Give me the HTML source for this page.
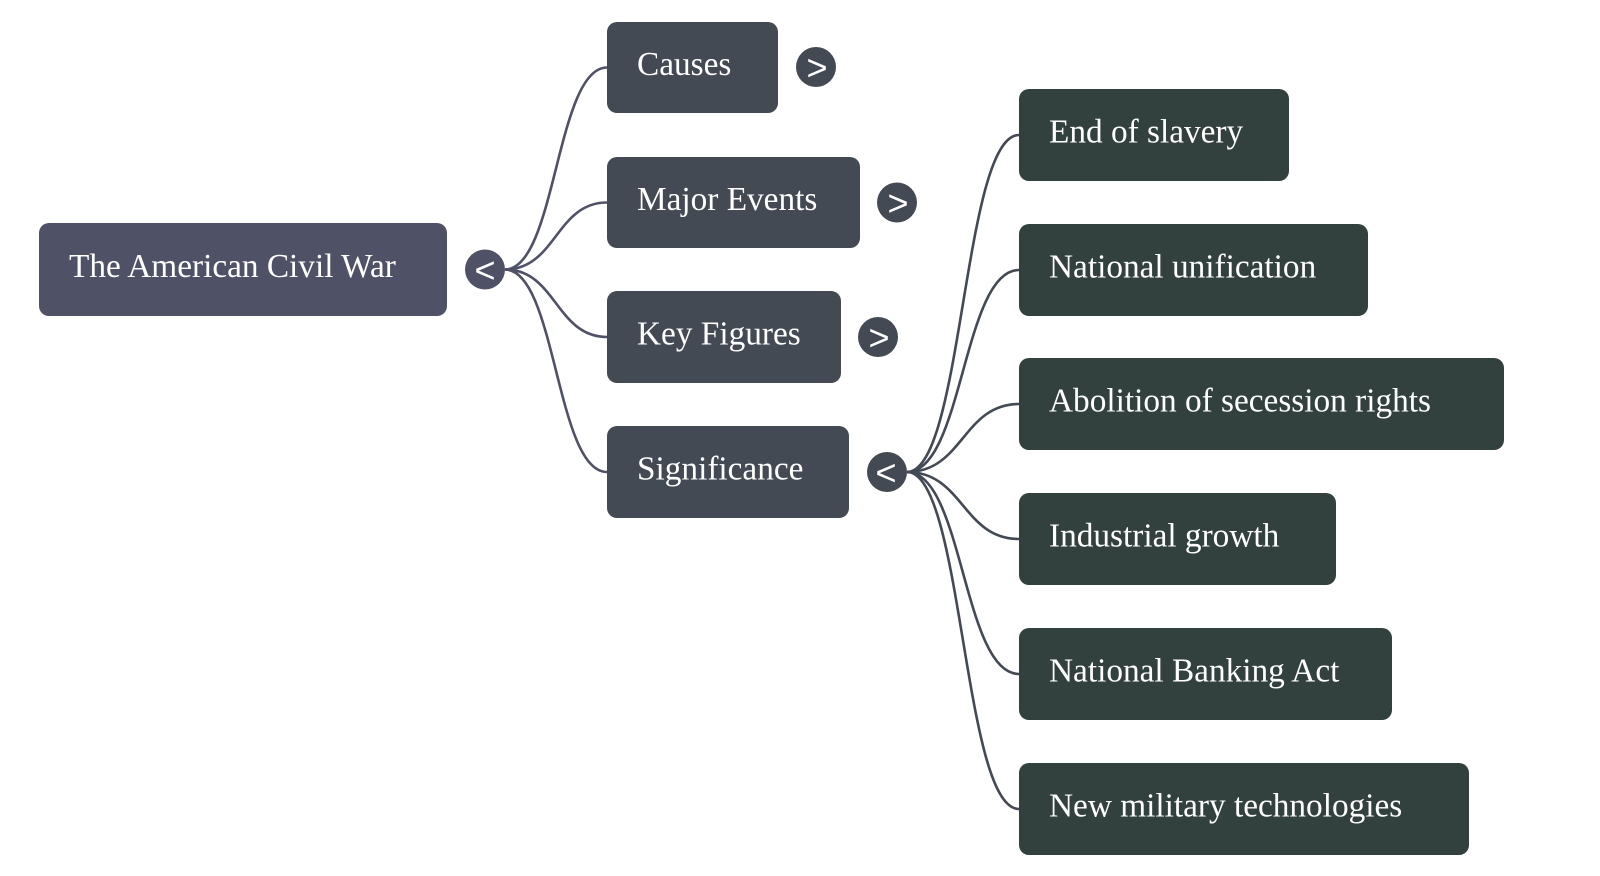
<!DOCTYPE html>
<html>
<head>
<meta charset="utf-8">
<style>
  html, body { margin: 0; padding: 0; background: #ffffff; }
  body { width: 1600px; height: 876px; overflow: hidden; }
  svg { display: block; }
  .lbl { font-family: "Liberation Serif", "Times New Roman", serif; font-size: 33.3px; fill: #ffffff; }
  .chev { font-family: "Liberation Sans", Arial, sans-serif; font-size: 36px; fill: #ffffff; text-anchor: middle; }
</style>
</head>
<body>
<svg width="1600" height="876" viewBox="0 0 1600 876" xmlns="http://www.w3.org/2000/svg">
  <!-- root connectors -->
  <g fill="none" stroke="#4f5166" stroke-width="2.6">
    <path d="M505 269.5 C556 269.5, 556 67.5, 607 67.5"/>
    <path d="M505 269.5 C556 269.5, 556 202.5, 607 202.5"/>
    <path d="M505 269.5 C556 269.5, 556 337, 607 337"/>
    <path d="M505 269.5 C556 269.5, 556 472, 607 472"/>
  </g>
  <!-- significance connectors -->
  <g fill="none" stroke="#434a54" stroke-width="2.6">
    <path d="M907 472 C963 472, 963 135, 1019 135"/>
    <path d="M907 472 C963 472, 963 270, 1019 270"/>
    <path d="M907 472 C963 472, 963 404, 1019 404"/>
    <path d="M907 472 C963 472, 963 539, 1019 539"/>
    <path d="M907 472 C963 472, 963 674, 1019 674"/>
    <path d="M907 472 C963 472, 963 809, 1019 809"/>
  </g>

  <!-- root -->
  <rect x="39" y="223" width="408" height="93" rx="10" fill="#4f5166"/>
  <text class="lbl" x="69" y="277">The American Civil War</text>
  <circle cx="485" cy="269.5" r="20" fill="#4f5166"/>
  <text class="chev" x="485" y="282.5">&lt;</text>

  <!-- level 2 -->
  <rect x="607" y="22" width="171" height="91" rx="10" fill="#434a54"/>
  <text class="lbl" x="637" y="75">Causes</text>
  <circle cx="816" cy="67" r="20" fill="#434a54"/>
  <text class="chev" x="817" y="80">&gt;</text>

  <rect x="607" y="157" width="253" height="91" rx="10" fill="#434a54"/>
  <text class="lbl" x="637" y="210">Major Events</text>
  <circle cx="897" cy="202.5" r="20" fill="#434a54"/>
  <text class="chev" x="898" y="215.5">&gt;</text>

  <rect x="607" y="291" width="234" height="92" rx="10" fill="#434a54"/>
  <text class="lbl" x="637" y="344.5">Key Figures</text>
  <circle cx="878" cy="337" r="20" fill="#434a54"/>
  <text class="chev" x="879" y="350">&gt;</text>

  <rect x="607" y="426" width="242" height="92" rx="10" fill="#434a54"/>
  <text class="lbl" x="637" y="479.5">Significance</text>
  <circle cx="887" cy="472" r="20" fill="#434a54"/>
  <text class="chev" x="886" y="485">&lt;</text>

  <!-- level 3 -->
  <rect x="1019" y="89" width="270" height="92" rx="10" fill="#33413e"/>
  <text class="lbl" x="1049" y="142.5">End of slavery</text>

  <rect x="1019" y="224" width="349" height="92" rx="10" fill="#33413e"/>
  <text class="lbl" x="1049" y="277.5">National unification</text>

  <rect x="1019" y="358" width="485" height="92" rx="10" fill="#33413e"/>
  <text class="lbl" x="1049" y="411.5">Abolition of secession rights</text>

  <rect x="1019" y="493" width="317" height="92" rx="10" fill="#33413e"/>
  <text class="lbl" x="1049" y="546.5">Industrial growth</text>

  <rect x="1019" y="628" width="373" height="92" rx="10" fill="#33413e"/>
  <text class="lbl" x="1049" y="681.5">National Banking Act</text>

  <rect x="1019" y="763" width="450" height="92" rx="10" fill="#33413e"/>
  <text class="lbl" x="1049" y="816.5">New military technologies</text>
</svg>
</body>
</html>
